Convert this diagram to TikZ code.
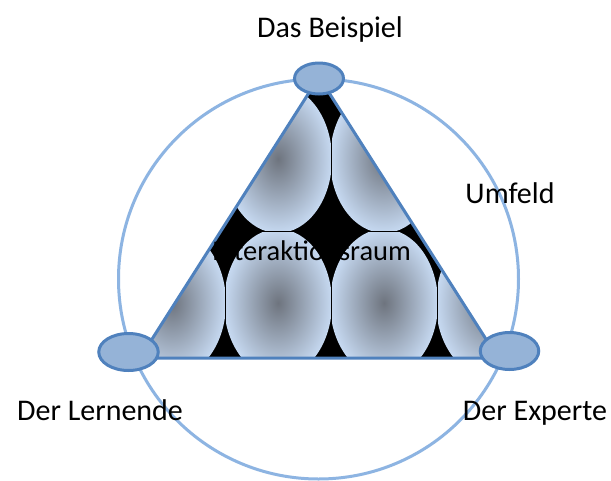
\documentclass[tikz,border=0pt]{standalone}
\usepackage{fontspec}
\setmainfont{Carlito}
\usetikzlibrary{shapes.geometric}
\definecolor{circ}{RGB}{141,180,226}
\definecolor{tri}{RGB}{79,129,189}
\definecolor{ellfill}{RGB}{149,179,215}
\definecolor{gin}{RGB}{110,116,126}
\definecolor{gout}{RGB}{198,217,241}
\begin{document}
\begin{tikzpicture}[x=1pt,y=-1pt,
  vert/.style={ellipse, draw=tri, line width=3pt, fill=ellfill, inner sep=0pt},
  lab/.style={font=\fontsize{30}{36}\selectfont, inner sep=0pt, anchor=base},
  cell/.style={inner color=gin, outer color=gout},
  seam/.style={black, line width=0.6pt}]
\useasboundingbox (0,0) rectangle (611,480);
\fill[white] (0,0) rectangle (611,480);
% Umfeld circle
\node[circle, draw=circ, line width=3pt, minimum size=400pt, inner sep=0pt] (umfeldkreis) at (318.5,279) {};
% triangle corners
\coordinate (A) at (319,77);
\coordinate (B) at (140,358);
\coordinate (C) at (498,358);
% patterned interior
\begin{scope}
  \clip (A) -- (B) -- (C) -- cycle;
  \fill[black] (100,50) rectangle (560,400);
  \foreach \cx in {172,278,384,490} {
    \foreach \cy in {15,159,303} {
      \begin{scope}
        \clip ({\cx-53},{\cy-72}) rectangle ({\cx+53},{\cy+72});
        \shade[cell] (\cx,\cy) ellipse [x radius=54, y radius=74];
      \end{scope}
    }
  }
  \foreach \sx in {225,331,437} { \draw[seam] (\sx,50) -- (\sx,400); }
  \foreach \sy in {87,231} { \draw[seam] (100,\sy) -- (560,\sy); }
\end{scope}
\draw[tri, line width=3pt, line join=miter] (A) -- (B) -- (C) -- cycle;
% vertex ellipses
\node[vert, minimum width=49pt, minimum height=31pt] (beispiel) at (319,78.5) {};
\node[vert, minimum width=59.5pt, minimum height=37pt] (lernende) at (128.5,352) {};
\node[vert, minimum width=58.5pt, minimum height=37pt] (experte) at (509.5,351) {};
% labels
\node[lab] (tbeispiel) at (330,37) {Das Beispiel};
\node[lab] (tumfeld) at (510,203) {Umfeld};
\node[lab] (tlernende) at (100,420) {Der Lernende};
\node[lab] (texperte) at (535,420) {Der Experte};
\node[lab, font=\fontsize{28.5}{34}\selectfont] (traum) at (311.5,260) {Interaktionsraum};
\end{tikzpicture}
\end{document}
